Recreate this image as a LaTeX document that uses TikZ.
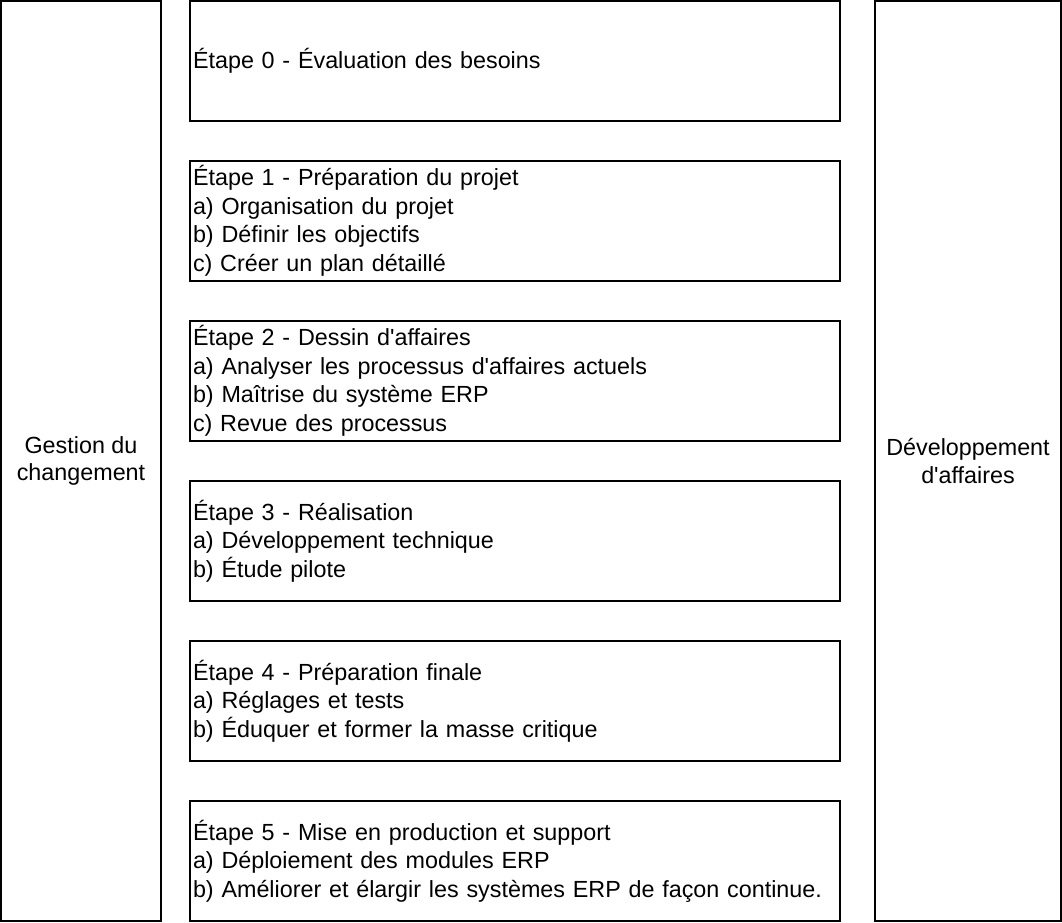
\documentclass[tikz,border=0pt]{standalone}
\usepackage{fontspec}
\setmainfont{Liberation Sans}
\usetikzlibrary{positioning}

\newcommand{\ap}{\textquotesingle}

\tikzset{
  box/.style={draw, line width=1.5pt, outer sep=0pt},
  stage/.style={box, minimum width=487.5pt, minimum height=90pt,
    text width=483pt, inner xsep=2.25pt, align=left,
    font=\fontsize{17.5}{21.4}\selectfont},
  side/.style={box, minimum height=690pt, align=center,
    font=\fontsize{17.5}{20.4}\selectfont},
}

\begin{document}
\begin{tikzpicture}[x=0.75pt, y=0.75pt, node distance=30pt]
  \useasboundingbox (0,0) rectangle (1062,-922);

  % side columns
  \node[side, minimum width=120pt, anchor=north west] (change) at (1,-1)
    {Gestion du\\changement};
  \node[side, minimum width=139.5pt, anchor=north west] (business) at (875,-1)
    {Développement\\d\ap affaires};

  % stages
  \node[stage, anchor=north west] (step0) at (190,-1)
    {Étape 0 - Évaluation des besoins};
  \node[stage, below=of step0] (step1)
    {Étape 1 - Préparation du projet\\
     a) Organisation du projet\\
     b) Définir les objectifs\\
     c) Créer un plan détaillé};
  \node[stage, below=of step1] (step2)
    {Étape 2 - Dessin d\ap affaires\\
     a) Analyser les processus d\ap affaires actuels\\
     b) Maîtrise du système ERP\\
     c) Revue des processus};
  \node[stage, below=of step2] (step3)
    {Étape 3 - Réalisation\\
     a) Développement technique\\
     b) Étude pilote};
  \node[stage, below=of step3] (step4)
    {Étape 4 - Préparation finale\\
     a) Réglages et tests\\
     b) Éduquer et former la masse critique};
  \node[stage, below=of step4] (step5)
    {Étape 5 - Mise en production et support\\
     a) Déploiement des modules ERP\\
     b) Améliorer et élargir les systèmes ERP de façon continue.};
\end{tikzpicture}
\end{document}
